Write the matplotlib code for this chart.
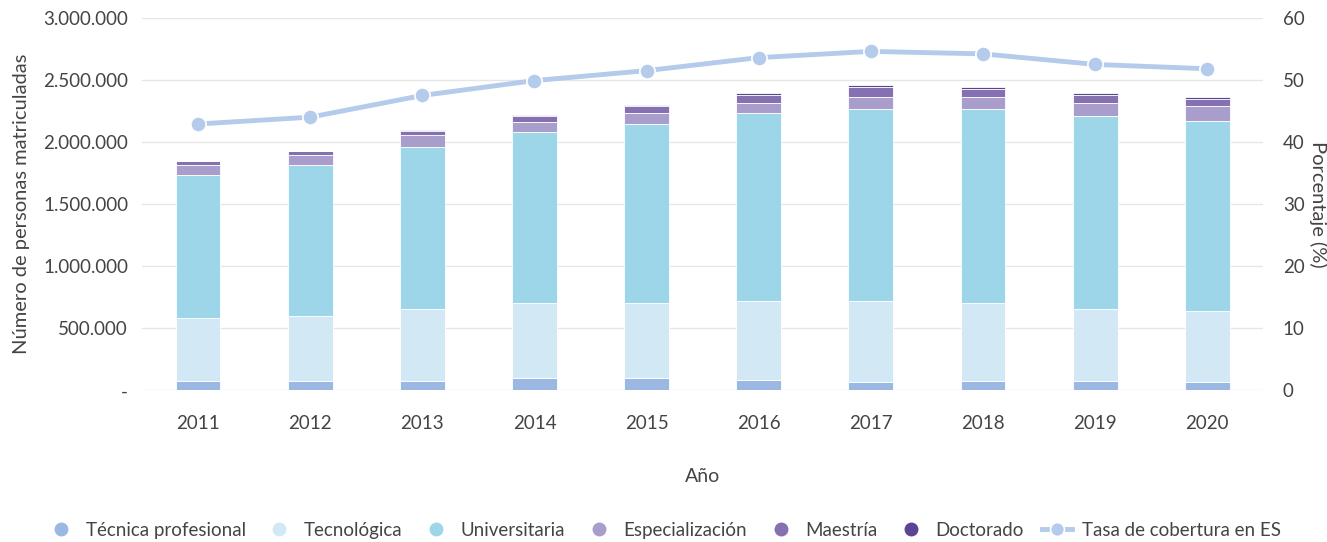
import numpy as np
import matplotlib.pyplot as plt
from matplotlib.lines import Line2D
from matplotlib.ticker import FuncFormatter

plt.rcParams['font.family'] = ['Lato', 'DejaVu Sans']

years = ['2011', '2012', '2013', '2014', '2015', '2016', '2017', '2018', '2019', '2020']

tecnica = [77000, 77000, 77000, 95000, 95000, 79000, 63000, 77000, 77000, 63000]
tecnologica = [502000, 519000, 581000, 610000, 610000, 643000, 659000, 629000, 581000, 578000]
universitaria = [1157000, 1215000, 1298000, 1373000, 1438000, 1514000, 1546000, 1562000, 1548000, 1532000]
especializacion = [81000, 81000, 97000, 81000, 94000, 77000, 94000, 91000, 107000, 115000]
maestria = [29000, 32000, 35000, 48000, 54000, 62000, 81000, 70000, 62000, 56000]
doctorado = [4000, 7000, 8000, 14000, 11000, 16000, 14000, 13000, 16000, 16000]
cobertura = [42.9, 44.0, 47.5, 49.9, 51.5, 53.6, 54.6, 54.2, 52.5, 51.8]

series = [
    ('Técnica profesional', tecnica, '#9bb8e3'),
    ('Tecnológica', tecnologica, '#d2e9f5'),
    ('Universitaria', universitaria, '#9dd5e9'),
    ('Especialización', especializacion, '#a99ecb'),
    ('Maestría', maestria, '#8570b0'),
    ('Doctorado', doctorado, '#5b4496'),
]
line_color = '#b4cbeb'
text_color = '#444444'

fig = plt.figure(figsize=(13.27, 5.42), dpi=100)
ax = fig.add_axes([0.107, 0.28, 0.845, 0.687])
ax2 = ax.twinx()

x = np.arange(len(years))
bottom = np.zeros(len(years))
handles = []
for name, vals, col in series:
    ax.bar(x, vals, 0.4, bottom=bottom, color=col, edgecolor='white', linewidth=0.6, zorder=2)
    bottom += np.array(vals)
    handles.append(Line2D([], [], ls='none', marker='o', ms=9, color=col, label=name))

ax2.plot(x, cobertura, color=line_color, lw=3.5, marker='o', ms=11,
         mec='white', mew=1.2, zorder=3)
handles.append(Line2D([], [], color=line_color, lw=3.5, marker='o', ms=10,
                      mec='white', mew=1.2, label='Tasa de cobertura en ES'))

ax.set_xlim(-0.5, 9.5)
ax.set_ylim(0, 3000000)
ax.set_yticks(np.arange(0, 3000001, 500000))
ax.yaxis.set_major_formatter(FuncFormatter(
    lambda v, p: '-' if v == 0 else f'{int(v):,}'.replace(',', '.')))
ax2.set_ylim(0, 60)
ax2.set_yticks(np.arange(0, 61, 10))

ax.set_xticks(x)
ax.set_xticklabels(years)
ax.grid(axis='y', color='#e6e6e6', lw=1, zorder=0)
ax.set_axisbelow(True)

for a in (ax, ax2):
    for s in a.spines.values():
        s.set_visible(False)
    a.tick_params(length=0, labelsize=13.5, colors=text_color)
ax.tick_params(axis='x', pad=18)
ax.tick_params(axis='y', pad=10)
ax2.tick_params(axis='y', pad=14)

ax.set_ylabel('Número de personas matriculadas', fontsize=14.5, color=text_color)
ax.yaxis.set_label_coords(-0.1, 0.5)
ax2.set_ylabel('Porcentaje (%)', fontsize=14.5, color=text_color, rotation=270, va='center')
ax2.yaxis.set_label_coords(1.049, 0.5)
ax.set_xlabel('Año', fontsize=14, color=text_color, labelpad=26)

fig.legend(handles=handles, loc='center', bbox_to_anchor=(0.5, 0.022), ncol=7,
           frameon=False, fontsize=13.5, labelcolor=text_color, handletextpad=0.5,
           columnspacing=1.0, handlelength=1.6)

fig.savefig('out.png', dpi=100)
